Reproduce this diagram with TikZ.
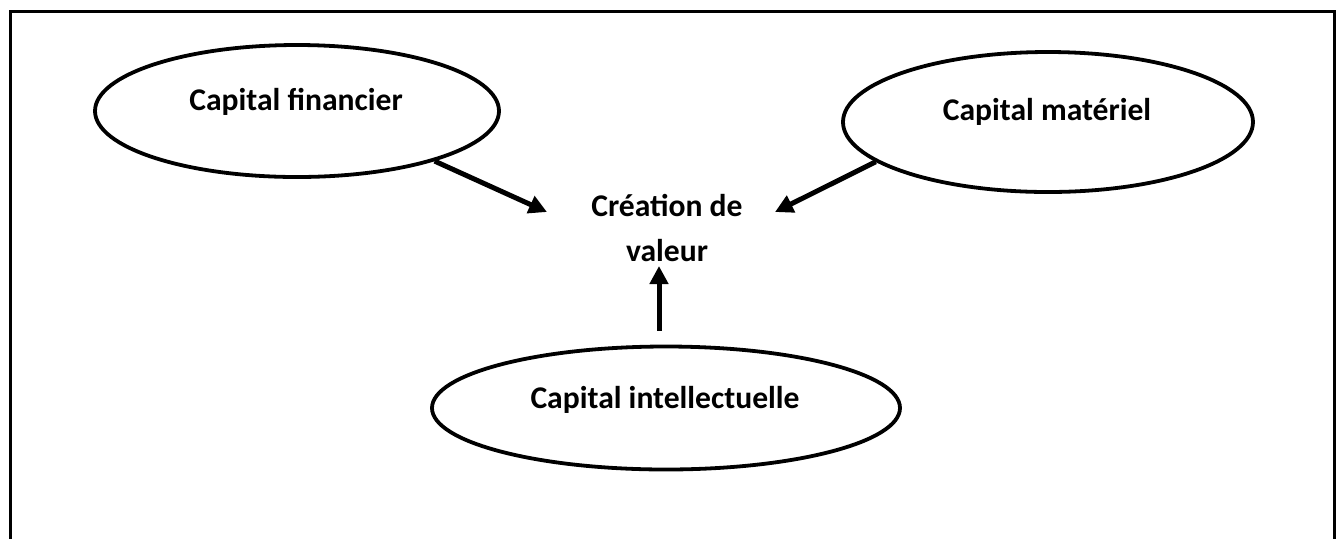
\documentclass[tikz,border=0pt]{standalone}
\usepackage{fontspec}
\setmainfont{Carlito}
\usetikzlibrary{arrows.meta, shapes.geometric, positioning}

\begin{document}
\begin{tikzpicture}[x=0.5pt, y=-0.5pt,
  capnode/.style={draw, ellipse, line width=1.9pt, inner sep=0pt},
  lbl/.style={font=\fontsize{15.8}{22.5}\selectfont\bfseries, align=center, inner sep=0pt},
  arr/.style={-{Triangle[length=9pt,width=9pt]}, line width=2.5pt}]
  \useasboundingbox (0,0) rectangle (1341,538);
  \clip (0,0) rectangle (1341,538);
  % frame
  \draw[line width=1.5pt] (10,11) rectangle (1334,560);

  % the three capitals
  \node[capnode, minimum width=202pt, minimum height=66pt] (fin) at (297,111) {};
  \node[capnode, minimum width=205pt, minimum height=70pt] (mat) at (1048,122) {};
  \node[capnode, minimum width=234pt, minimum height=61.5pt] (intel) at (666,408) {};
  \node[lbl, anchor=base] (fintxt) at (296,110) {Capital financier};
  \node[lbl, anchor=base] (mattxt) at (1047,120) {Capital matériel};
  \node[lbl, anchor=base] (inteltxt) at (665,408) {Capital intellectuelle};

  % centre
  \node[lbl] (cre) at (667,228) {Création de\\valeur};
  \coordinate (t1) at (547,212);
  \coordinate (t2) at (775,212);
  \coordinate (t3) at (659,266);

  \draw[arr] (fin.-20.6) -- (t1);
  \draw[arr] (mat.193.2) -- (t2);
  \draw[arr] ([xshift=-3.5pt, yshift=7pt]intel.north) -- (t3);
\end{tikzpicture}
\end{document}
